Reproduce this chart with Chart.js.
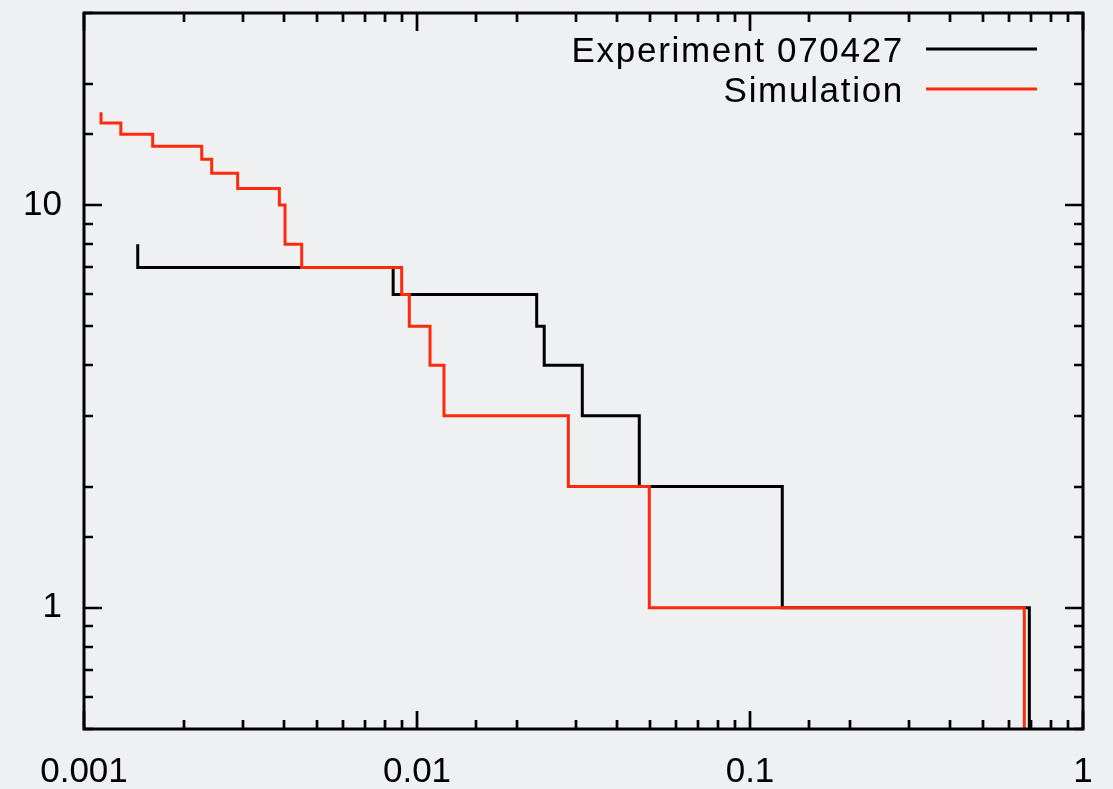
<!DOCTYPE html>
<html>
<head>
<meta charset="utf-8">
<script src="https://cdn.jsdelivr.net/npm/chart.js@4/dist/chart.umd.min.js"></script>
<style>
  html, body { margin: 0; padding: 0; background: #eef0f2; }
  #wrap { position: relative; width: 1113px; height: 789px; }
</style>
</head>
<body>
<div id="wrap"><canvas id="c"></canvas></div>
<script>
// ---- data ----
const seriesNames = ["Experiment 070427", "Simulation"];
// x positions where the cumulative count drops
const expDropX = [0.00145, 0.00848, 0.02288, 0.0241, 0.03136, 0.04651, 0.125, 0.69];
// count before the first drop, then the count after each drop
const expLevels = [8, 7, 6, 5, 4, 3, 2, 1, 0];
const simDropX = [0.001125, 0.00129, 0.001608, 0.002257, 0.002418, 0.002894, 0.003861, 0.004015,
                  0.004506, 0.008995, 0.009482, 0.01094, 0.01205, 0.02848, 0.04984, 0.6664];
const simLevels = [17, 16, 15, 14, 13, 12, 11, 10, 8, 7, 6, 5, 4, 3, 2, 1, 0];
const xTickLabels = [0.001, 0.01, 0.1, 1];
const yTickLabels = [1, 10];
const X_MIN = 0.001, X_MAX = 1, Y_MIN = 0.5, Y_MAX = 30;

function stepPoints(dropX, levels) {
  // a count of 0 cannot sit on a log axis: it falls to the bottom of the axis
  const lv = n => (n > 0 ? n : Y_MIN);
  const pts = [{ x: dropX[0], y: lv(levels[0]) }];
  for (let i = 0; i < dropX.length; i++) pts.push({ x: dropX[i], y: lv(levels[i + 1]) });
  return pts;
}

const RED = '#ff2a0c';
const FONT = "'Liberation Sans', Arial, Helvetica, sans-serif";

const isPow10 = v => Math.abs(Math.log10(v) - Math.round(Math.log10(v))) < 1e-9;

const framePlugin = {
  id: 'frame',
  afterDatasetsDraw(chart) {
    const { ctx, chartArea: a, scales } = chart;
    ctx.save();
    ctx.strokeStyle = '#000';
    ctx.lineWidth = 2.7;
    ctx.lineCap = 'butt';
    ctx.beginPath();
    scales.x.ticks.forEach(t => {
      const px = Math.round(scales.x.getPixelForValue(t.value));
      const len = isPow10(t.value) ? 18 : 9;
      ctx.moveTo(px, a.bottom); ctx.lineTo(px, a.bottom - len);
      ctx.moveTo(px, a.top); ctx.lineTo(px, a.top + len);
    });
    scales.y.ticks.forEach(t => {
      const py = Math.round(scales.y.getPixelForValue(t.value));
      const len = isPow10(t.value) ? 18 : 9;
      ctx.moveTo(a.left, py); ctx.lineTo(a.left + len, py);
      ctx.moveTo(a.right, py); ctx.lineTo(a.right - len, py);
    });
    ctx.stroke();
    ctx.lineWidth = 3;
    ctx.strokeRect(a.left, a.top, a.right - a.left, a.bottom - a.top);
    ctx.restore();
  },
  afterDraw(chart) {
    const { ctx, chartArea: a } = chart;
    const colors = ['#000', RED];
    ctx.save();
    ctx.font = '35px ' + FONT;
    ctx.letterSpacing = '1.7px';
    ctx.fillStyle = '#000';
    ctx.textAlign = 'right';
    ctx.textBaseline = 'alphabetic';
    seriesNames.forEach((name, i) => {
      const yLine = a.top + 36 + i * 40;
      ctx.fillText(name, a.right - 179, yLine + 12.5);
      ctx.strokeStyle = colors[i];
      ctx.lineWidth = 3;
      ctx.beginPath();
      ctx.moveTo(a.right - 157, yLine);
      ctx.lineTo(a.right - 46, yLine);
      ctx.stroke();
    });
    ctx.restore();
  }
};

new Chart(document.getElementById('c'), {
  type: 'line',
  data: {
    datasets: [
      { label: seriesNames[0], data: stepPoints(expDropX, expLevels), borderColor: '#000',
        borderWidth: 3, stepped: 'before', pointRadius: 0, fill: false, order: 1,
        borderJoinStyle: 'miter', borderCapStyle: 'butt' },
      { label: seriesNames[1], data: stepPoints(simDropX, simLevels), borderColor: RED,
        borderWidth: 3, stepped: 'before', pointRadius: 0, fill: false, order: 0,
        borderJoinStyle: 'miter', borderCapStyle: 'butt' }
    ]
  },
  options: {
    responsive: true,
    maintainAspectRatio: false,
    animation: false,
    events: [],
    layout: { padding: { top: 13, right: 30, left: 0, bottom: 0 } },
    plugins: { legend: { display: false }, tooltip: { enabled: false } },
    scales: {
      x: {
        type: 'logarithmic', min: X_MIN, max: X_MAX,
        grid: { display: false, drawTicks: false },
        border: { display: false },
        afterFit: s => { s.height = 60; s.paddingLeft = 0; s.paddingRight = 0; },
        ticks: {
          autoSkip: false, maxRotation: 0, padding: 22, color: '#000',
          font: { family: FONT, size: 35 },
          callback: v => (xTickLabels.some(t => Math.abs(t - v) / t < 1e-9) ? String(v) : '')
        }
      },
      y: {
        type: 'logarithmic', min: Y_MIN, max: Y_MAX,
        grid: { display: false, drawTicks: false },
        border: { display: false },
        afterFit: s => { s.width = 84; s.paddingTop = 0; s.paddingBottom = 0; },
        ticks: {
          autoSkip: false, padding: 22, color: '#000',
          font: { family: FONT, size: 35 },
          callback: v => (yTickLabels.some(t => Math.abs(t - v) / t < 1e-9) ? String(v) : '')
        }
      }
    }
  },
  plugins: [framePlugin]
});
</script>
</body>
</html>
